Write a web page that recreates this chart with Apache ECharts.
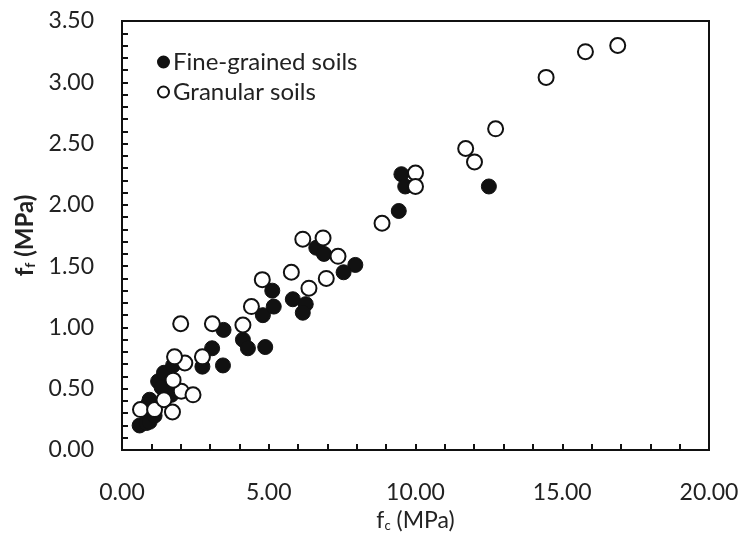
<!DOCTYPE html>
<html>
<head>
<meta charset="utf-8">
<script src="https://cdn.jsdelivr.net/npm/echarts@6/dist/echarts.min.js"></script>
<style>html,body{margin:0;padding:0;background:#fff}#c{width:742px;height:537px}</style>
</head>
<body>
<div id="c"></div>
<script>
// Fine-grained soils (filled)
var fineX = [0.60, 0.83, 0.94, 1.11, 0.94, 0.88, 1.23, 1.43, 1.74, 1.68, 1.62, 1.35, 2.74, 3.07, 3.44, 3.46, 4.12, 4.29, 4.88, 4.80, 5.17, 5.12, 5.82, 6.26, 6.16, 6.62, 6.88, 7.95, 7.55, 9.43, 9.52, 9.65, 12.50];
var fineY = [0.20, 0.22, 0.23, 0.28, 0.41, 0.37, 0.56, 0.63, 0.69, 0.45, 0.52, 0.51, 0.68, 0.83, 0.69, 0.98, 0.90, 0.83, 0.84, 1.10, 1.17, 1.30, 1.23, 1.19, 1.12, 1.65, 1.60, 1.51, 1.45, 1.95, 2.25, 2.15, 2.15];
// Granular soils (open)
var granX = [0.63, 1.11, 1.43, 1.72, 2.02, 2.42, 1.74, 2.14, 1.79, 2.74, 2.00, 3.08, 4.12, 4.41, 4.78, 5.77, 6.37, 6.96, 6.16, 6.85, 7.36, 8.86, 10.00, 10.00, 11.71, 12.01, 12.73, 14.45, 15.79, 16.89];
var granY = [0.33, 0.33, 0.41, 0.31, 0.48, 0.45, 0.57, 0.71, 0.76, 0.76, 1.03, 1.03, 1.02, 1.17, 1.39, 1.45, 1.32, 1.40, 1.72, 1.73, 1.58, 1.85, 2.26, 2.15, 2.46, 2.35, 2.62, 3.04, 3.25, 3.30];
var seriesNames = ['Fine-grained soils', 'Granular soils'];
var xTicks = [0, 5, 10, 15, 20];
var yTicks = [0, 0.5, 1, 1.5, 2, 2.5, 3, 3.5];

function pairs(xs, ys) { return xs.map(function (x, i) { return [x, ys[i]]; }); }

var FONT = 'Lato';
var chart = echarts.init(document.getElementById('c'), null, { renderer: 'canvas' });
var axisCommon = {
  axisLine: { show: true, onZero: false, lineStyle: { color: '#111', width: 2 } },
  axisTick: { show: true, inside: true, length: 6, lineStyle: { color: '#111', width: 2 } },
  minorTick: { show: true, splitNumber: 5, length: 6, lineStyle: { color: '#111', width: 2 } },
  splitLine: { show: false },
  minorSplitLine: { show: false },
  axisLabel: { fontFamily: FONT, fontSize: 23, color: '#222', formatter: function (v) { return v.toFixed(2); } }
};
chart.setOption({
  backgroundColor: '#fff',
  animation: false,
  grid: { left: 122, right: 33, top: 21, bottom: 87, show: true, borderColor: '#111', borderWidth: 2 },
  legend: {
    orient: 'vertical', left: 152, top: 45, itemWidth: 11, itemHeight: 11, itemGap: 6,
    icon: 'circle',
    textStyle: { fontFamily: FONT, fontSize: 24, color: '#222', padding: [0, 0, 0, -1] },
    data: seriesNames
  },
  xAxis: Object.assign({}, axisCommon, {
    type: 'value', min: xTicks[0], max: xTicks[xTicks.length - 1], interval: xTicks[1] - xTicks[0],
    axisLabel: Object.assign({}, axisCommon.axisLabel, { margin: 31 }),
    name: '{a|f}{s|c}{a| (MPa)}', nameLocation: 'middle', nameGap: 57,
    nameTextStyle: { rich: {
      a: { fontFamily: FONT, fontSize: 23, color: '#222' },
      s: { fontFamily: FONT, fontSize: 13, color: '#222', verticalAlign: 'bottom', padding: [10, 0, 0, 0] }
    } }
  }),
  yAxis: Object.assign({}, axisCommon, {
    type: 'value', min: yTicks[0], max: yTicks[yTicks.length - 1], interval: yTicks[1] - yTicks[0],
    axisLabel: Object.assign({}, axisCommon.axisLabel, { margin: 28 }),
    name: '{a|f}{s|f}{a| (MPa)}', nameLocation: 'middle', nameGap: 81,
    nameTextStyle: { rich: {
      a: { fontFamily: FONT, fontSize: 24, fontWeight: 'bold', color: '#222' },
      s: { fontFamily: FONT, fontSize: 14, fontWeight: 'bold', color: '#222', verticalAlign: 'bottom', padding: [10, 0, 0, 0] }
    } }
  }),
  series: [
    {
      name: seriesNames[0], type: 'scatter', symbol: 'circle', symbolSize: 15,
      itemStyle: { color: '#111', borderColor: '#111', borderWidth: 1, opacity: 1 },
      data: pairs(fineX, fineY), z: 2
    },
    {
      name: seriesNames[1], type: 'scatter', symbol: 'circle', symbolSize: 15,
      itemStyle: { color: '#fff', borderColor: '#111', borderWidth: 2, opacity: 1 },
      data: pairs(granX, granY), z: 3
    }
  ]
});
</script>
</body>
</html>
